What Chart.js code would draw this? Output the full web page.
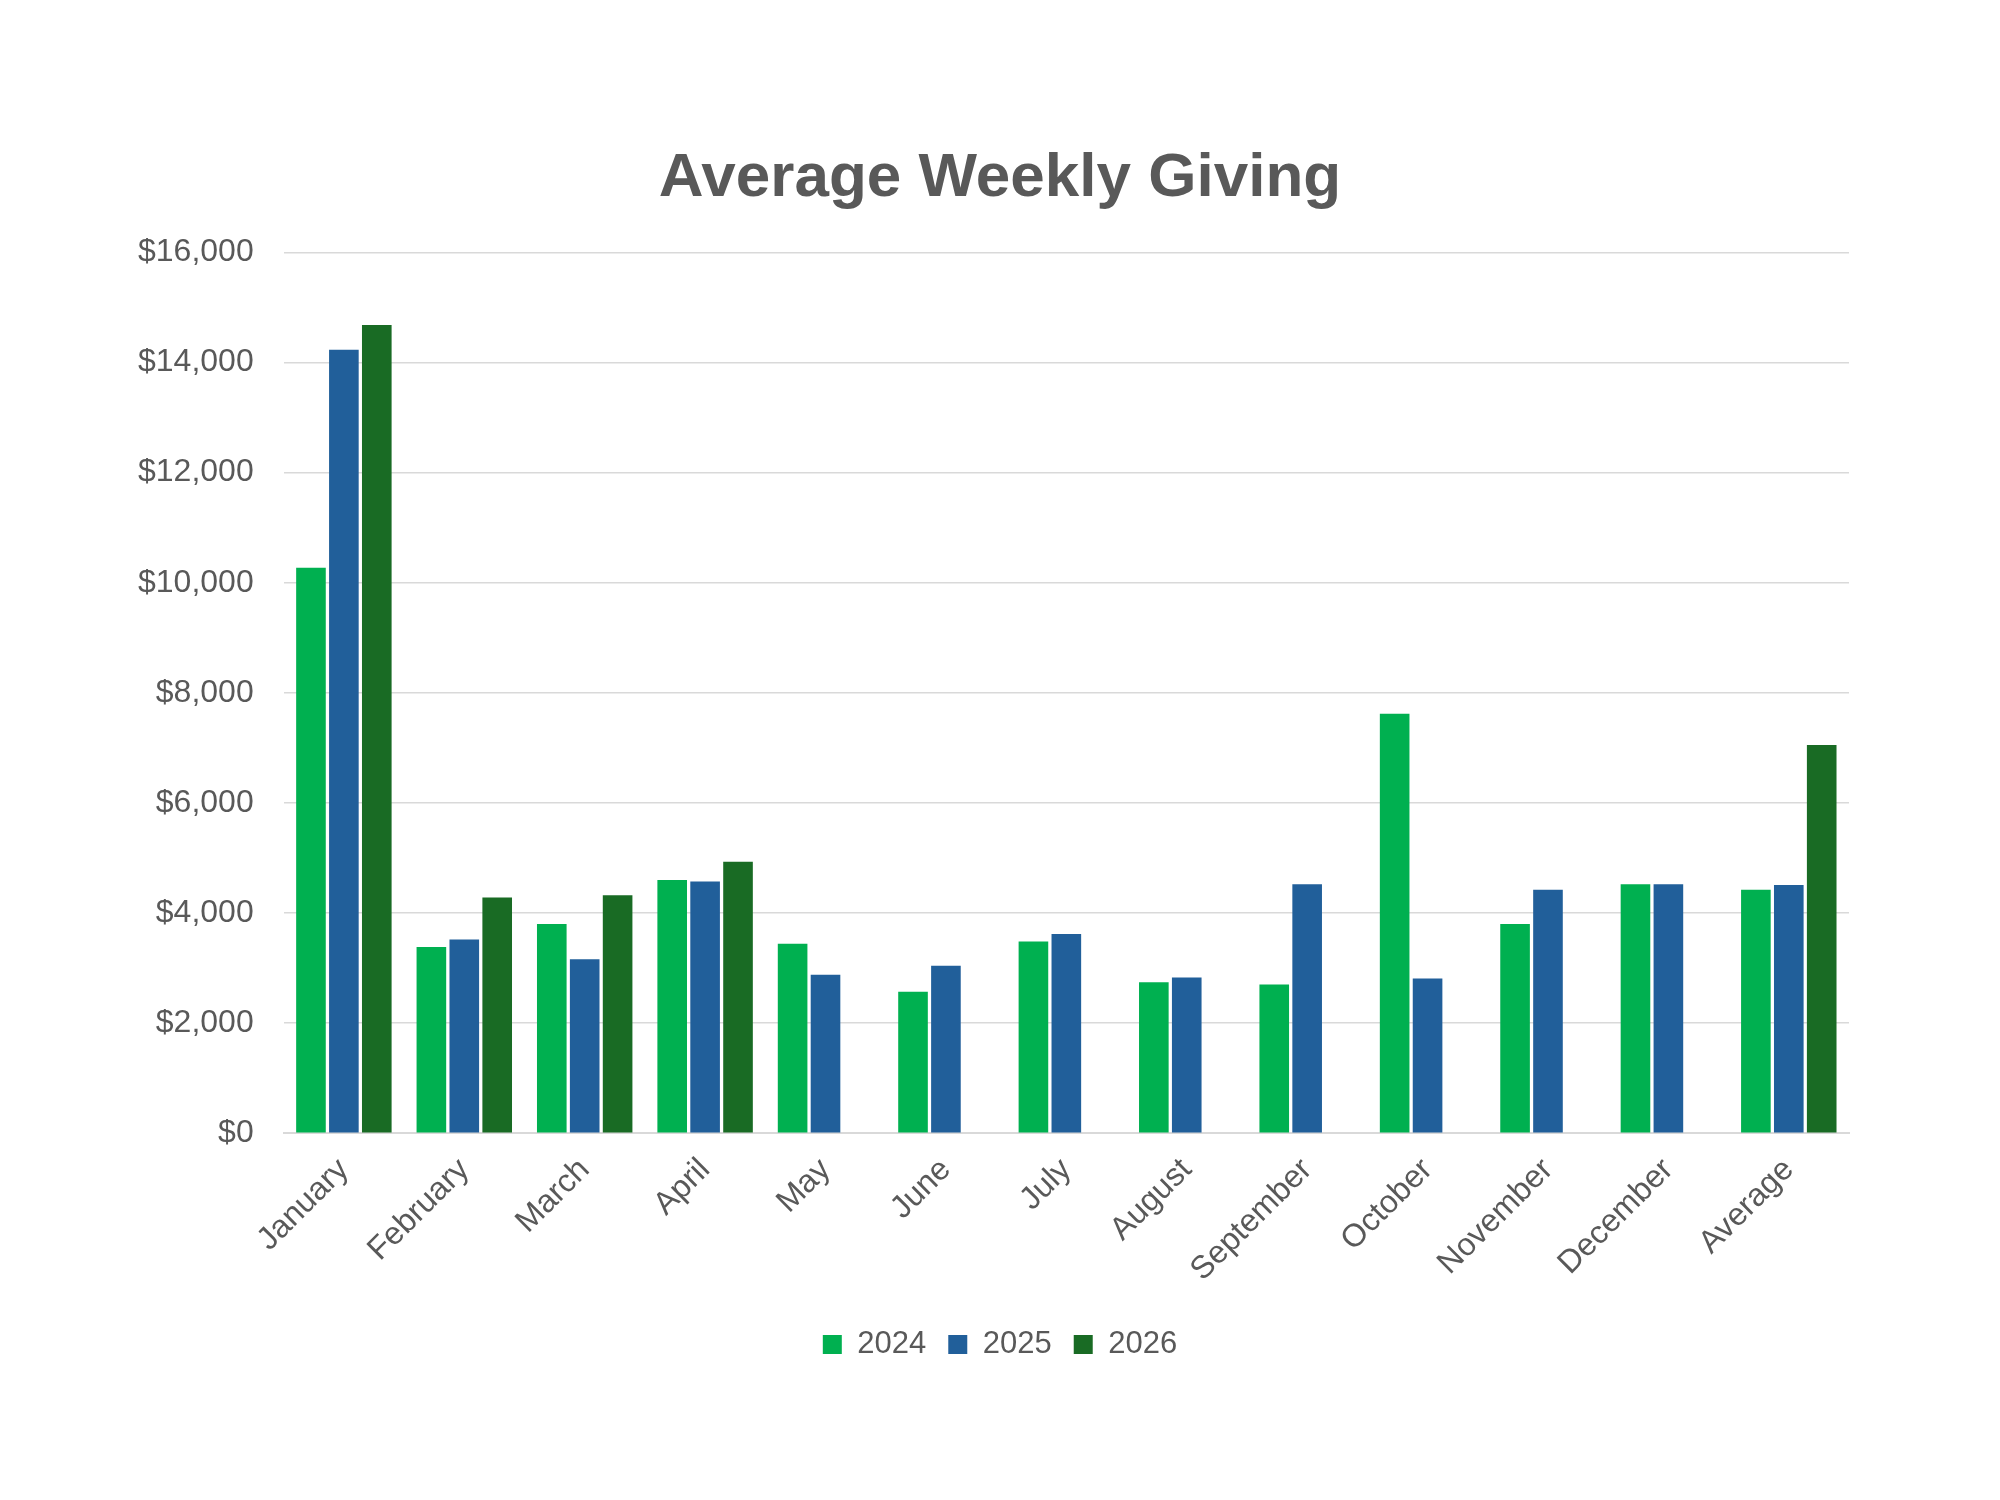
<!DOCTYPE html>
<html>
<head>
<meta charset="utf-8">
<script src="https://cdn.jsdelivr.net/npm/chart.js@4"></script>
<style>
  html, body { margin: 0; padding: 0; background: #fff; }
  #wrap { width: 2000px; height: 1500px; }
</style>
</head>
<body>
<div id="wrap"><canvas id="chart" width="2000" height="1500"></canvas></div>
<script>
var months = ["January", "February", "March", "April", "May", "June", "July",
  "August", "September", "October", "November", "December", "Average"];
var giving2024 = [10270, 3380, 3800, 4600, 3440, 2570, 3480, 2740, 2700, 7620, 3800, 4520, 4420];
var giving2025 = [14230, 3520, 3160, 4570, 2880, 3040, 3620, 2830, 4520, 2810, 4420, 4520, 4510];
var giving2026 = [14680, 4280, 4320, 4930, null, null, null, null, null, null, null, null, 7050];

var textColor = '#595959';
var font = "'Liberation Sans', Arial, sans-serif";

function money(v) {
  return '$' + v.toLocaleString('en-US');
}

function series(label, values, color) {
  return {
    label: label,
    data: values,
    backgroundColor: color,
    borderWidth: 0,
    barPercentage: 0.9,
    categoryPercentage: 0.82
  };
}

new Chart(document.getElementById('chart'), {
  type: 'bar',
  data: {
    labels: months,
    datasets: [
      series('2024', giving2024, '#00B050'),
      series('2025', giving2025, '#215F9A'),
      series('2026', giving2026, '#196B24')
    ]
  },
  options: {
    responsive: false,
    devicePixelRatio: 1,
    animation: false,
    layout: { padding: { left: 108, right: 108, top: 0, bottom: 130 } },
    plugins: {
      title: {
        display: true,
        text: 'Average Weekly Giving',
        color: textColor,
        font: { family: font, size: 62, weight: 'bold' },
        padding: { top: 142, bottom: 36 }
      },
      legend: {
        position: 'bottom',
        labels: {
          color: textColor,
          font: { family: font, size: 31 },
          boxWidth: 19,
          boxHeight: 19,
          padding: 22
        }
      },
      tooltip: { enabled: false }
    },
    scales: {
      x: {
        grid: { display: false, drawTicks: false },
        border: { display: true, color: '#d9d9d9', width: 2 },
        ticks: {
          color: textColor,
          font: { family: font, size: 32 },
          maxRotation: 45,
          minRotation: 45,
          padding: 18,
          autoSkip: false
        }
      },
      y: {
        min: 0,
        max: 16000,
        grid: { color: '#d9d9d9', lineWidth: 1.5, drawTicks: false },
        border: { display: false },
        ticks: {
          stepSize: 2000,
          color: textColor,
          font: { family: font, size: 32 },
          padding: 30,
          callback: function (v) { return money(v); }
        }
      },
      // empty right axis, only there to balance the plot so the title stays centred
      yRight: {
        position: 'right',
        min: 0,
        max: 16000,
        grid: { display: false },
        border: { display: false },
        ticks: { display: false },
        afterFit: function (scale) { scale.width = 43; }
      }
    }
  }
});
</script>
</body>
</html>
